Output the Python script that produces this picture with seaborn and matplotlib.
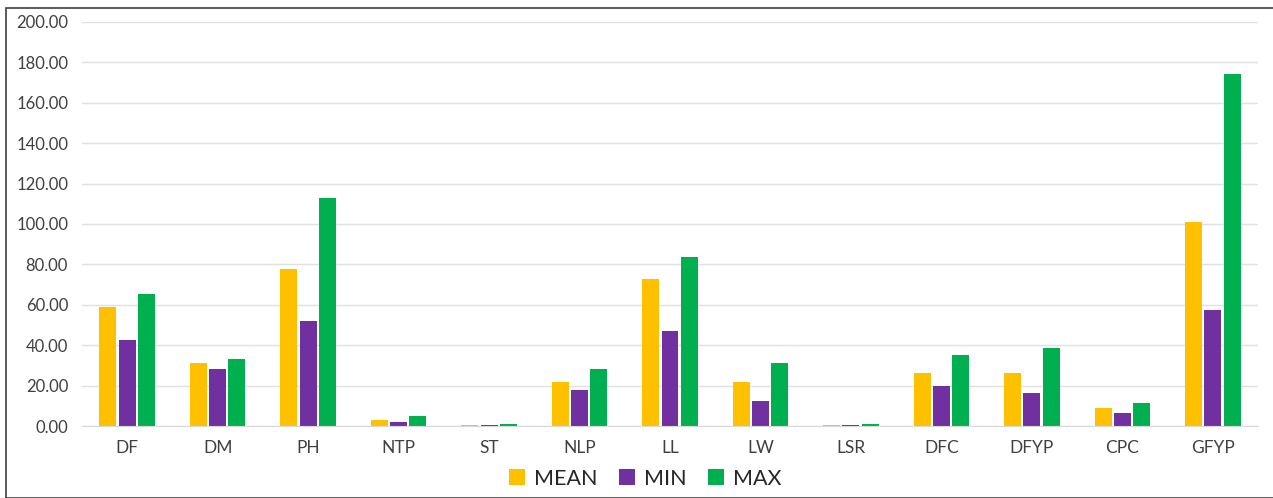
import pandas as pd
import matplotlib.pyplot as plt
import seaborn as sns
from matplotlib.patches import Rectangle

# Werte
traits = ['DF', 'DM', 'PH', 'NTP', 'ST', 'NLP', 'LL', 'LW', 'LSR', 'DFC', 'DFYP', 'CPC', 'GFYP']
mean_vals = [58.9, 31.2, 77.7, 2.8, 0.6, 21.9, 72.6, 21.9, 0.5, 26.2, 26.2, 8.9, 100.8]
min_vals = [42.6, 28.4, 52.1, 2.2, 0.4, 17.7, 47.0, 12.4, 0.3, 19.8, 16.2, 6.6, 57.4]
max_vals = [65.3, 33.2, 112.9, 5.0, 1.2, 28.4, 83.8, 31.0, 1.0, 35.3, 38.8, 11.5, 174.4]
series = ['MEAN', 'MIN', 'MAX']
colors = ['#FFC000', '#7030A0', '#00B050']

df = pd.DataFrame({'trait': traits, 'MEAN': mean_vals, 'MIN': min_vals, 'MAX': max_vals})
df_long = df.melt(id_vars='trait', value_vars=series, var_name='stat', value_name='value')

sns.set_style('white')
plt.rcParams['font.family'] = ['Lato', 'DejaVu Sans']

fig = plt.figure(figsize=(12.73, 4.98), dpi=100)
ax = fig.add_axes([82 / 1273, 1 - 426 / 498, 1176 / 1273, 404 / 498])

sns.barplot(data=df_long, x='trait', y='value', hue='stat', hue_order=series,
            palette=colors, saturation=1, width=0.64, gap=0.12, linewidth=0,
            edgecolor='none', ax=ax, legend=True)

ax.set_ylim(0, 200)
ax.set_yticks(range(0, 201, 20))
ax.set_yticklabels([f'{v:.2f}' for v in range(0, 201, 20)], fontsize=12, color='#404040')
ax.set_xlim(-0.5, len(traits) - 0.5)
ax.tick_params(axis='x', labelsize=12.5, colors='#404040', length=0, pad=10)
ax.tick_params(axis='y', length=0, pad=10)
ax.set_xlabel('')
ax.set_ylabel('')
ax.grid(axis='y', color='#e0e0e0', linewidth=1)
ax.set_axisbelow(True)
for side in ['top', 'right', 'left']:
    ax.spines[side].set_visible(False)
ax.spines['bottom'].set_color('#d9d9d9')

ax.legend(loc='center', bbox_to_anchor=(0.479, -0.13), ncol=3, frameon=False,
          fontsize=15.5, handlelength=0.75, handleheight=0.75, handletextpad=0.4,
          columnspacing=1.0, labelcolor='#262626')

# Rahmen um die Grafik
fig.patches.append(Rectangle((6 / 1273, 0), 1.0, 1 - 8 / 498, transform=fig.transFigure,
                             fill=False, edgecolor='#404040', linewidth=1.2))

fig.savefig('out.png', dpi=100)
